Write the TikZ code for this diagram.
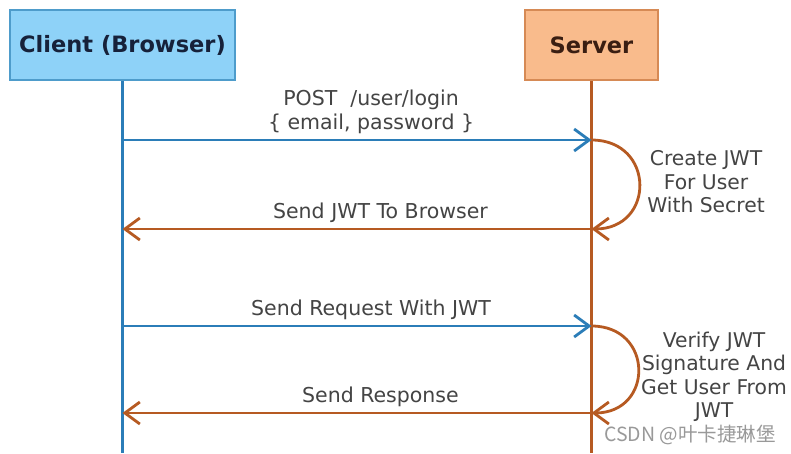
\documentclass[tikz,border=0pt]{standalone}
\usepackage{fontspec}
\setmainfont{DejaVu Sans}
\newfontfamily\cjk{Noto Sans CJK SC}
\usetikzlibrary{arrows.meta, positioning, calc}
\definecolor{clientfill}{HTML}{8ED2F8}
\definecolor{clientedge}{HTML}{4E9CCB}
\definecolor{clienttext}{HTML}{16213A}
\definecolor{serverfill}{HTML}{F9BB8C}
\definecolor{serveredge}{HTML}{D68A55}
\definecolor{servertext}{HTML}{3A1E12}
\definecolor{reqblue}{HTML}{2B7DB8}
\definecolor{resporange}{HTML}{B65A22}
\definecolor{labelgray}{HTML}{444444}
\tikzset{actor/.style={rectangle,draw,line width=1.5pt,minimum height=70pt,font=\fontsize{22.5}{26}\selectfont\bfseries},
         lifeline/.style={line width=2.2pt},
         msg/.style={-{Straight Barb[length=15pt,width=22pt,line width=2.8pt]},line width=2.8pt,reqblue},
         reply/.style={-{Straight Barb[length=15pt,width=22pt,line width=2.8pt]},line width=2.8pt,resporange},
         loopback/.style={reply,out=0,in=0,looseness=1.84},
         msglabel/.style={text=labelgray,font=\fontsize{20.5}{24}\selectfont,align=center},
         note/.style={text=labelgray,font=\fontsize{20.3}{23.5}\selectfont,align=center}}

\begin{document}
\begin{tikzpicture}[x=1pt,y=-1pt]
    \useasboundingbox[fill=white] (0,0) rectangle (791,453);
    % actors
    \node (client) [actor, fill=clientfill, draw=clientedge, text=clienttext, minimum width=225pt] at (122.5,45) {Client (Browser)};
    \node (server) [actor, fill=serverfill, draw=serveredge, text=servertext, minimum width=133pt] at (591.5,45) {Server};
    \coordinate (clientend) at (client.south |- 0,453);
    \coordinate (serverend) at (server.south |- 0,453);
    \draw[lifeline, reqblue] (client.south) -- (clientend);
    \draw[lifeline, resporange] (server.south) -- (serverend);
    % message points on lifelines
    \foreach \n/\y in {1/140,2/229,3/326,4/413} {
        \coordinate (c\n) at (client.south |- 0,\y);
        \coordinate (s\n) at (server.south |- 0,\y);
    }
    % login
    \draw[msg] (c1) -- node[msglabel, above=2pt, pos=0.53] {POST \ /user/login\\\{ email, password \}} (s1);
    \draw[loopback] (s1) to (s2);
    \node (create) [note] at (706,182) {Create JWT\\For User\\With Secret};
    \draw[reply] (s2) -- node[msglabel, above=2pt, pos=0.45] {Send JWT To Browser} (c2);
    % authorised request
    \draw[msg] (c3) -- node[msglabel, above=2pt, pos=0.53] {Send Request With JWT} (s3);
    \draw[loopback] (s3) to (s4);
    \node (verify) [note] at (714,377) {Verify JWT\\Signature And\\Get User From\\JWT};
    \draw[reply] (s4) -- node[msglabel, above=2pt, pos=0.45] {Send Response} (c4);
    % watermark
    \node (mark) [anchor=east, text=gray!80, font=\cjk\fontsize{19.5}{21}\selectfont, inner sep=1pt] at (777,435) {CSDN @叶卡捷琳堡};
\end{tikzpicture}
\end{document}
